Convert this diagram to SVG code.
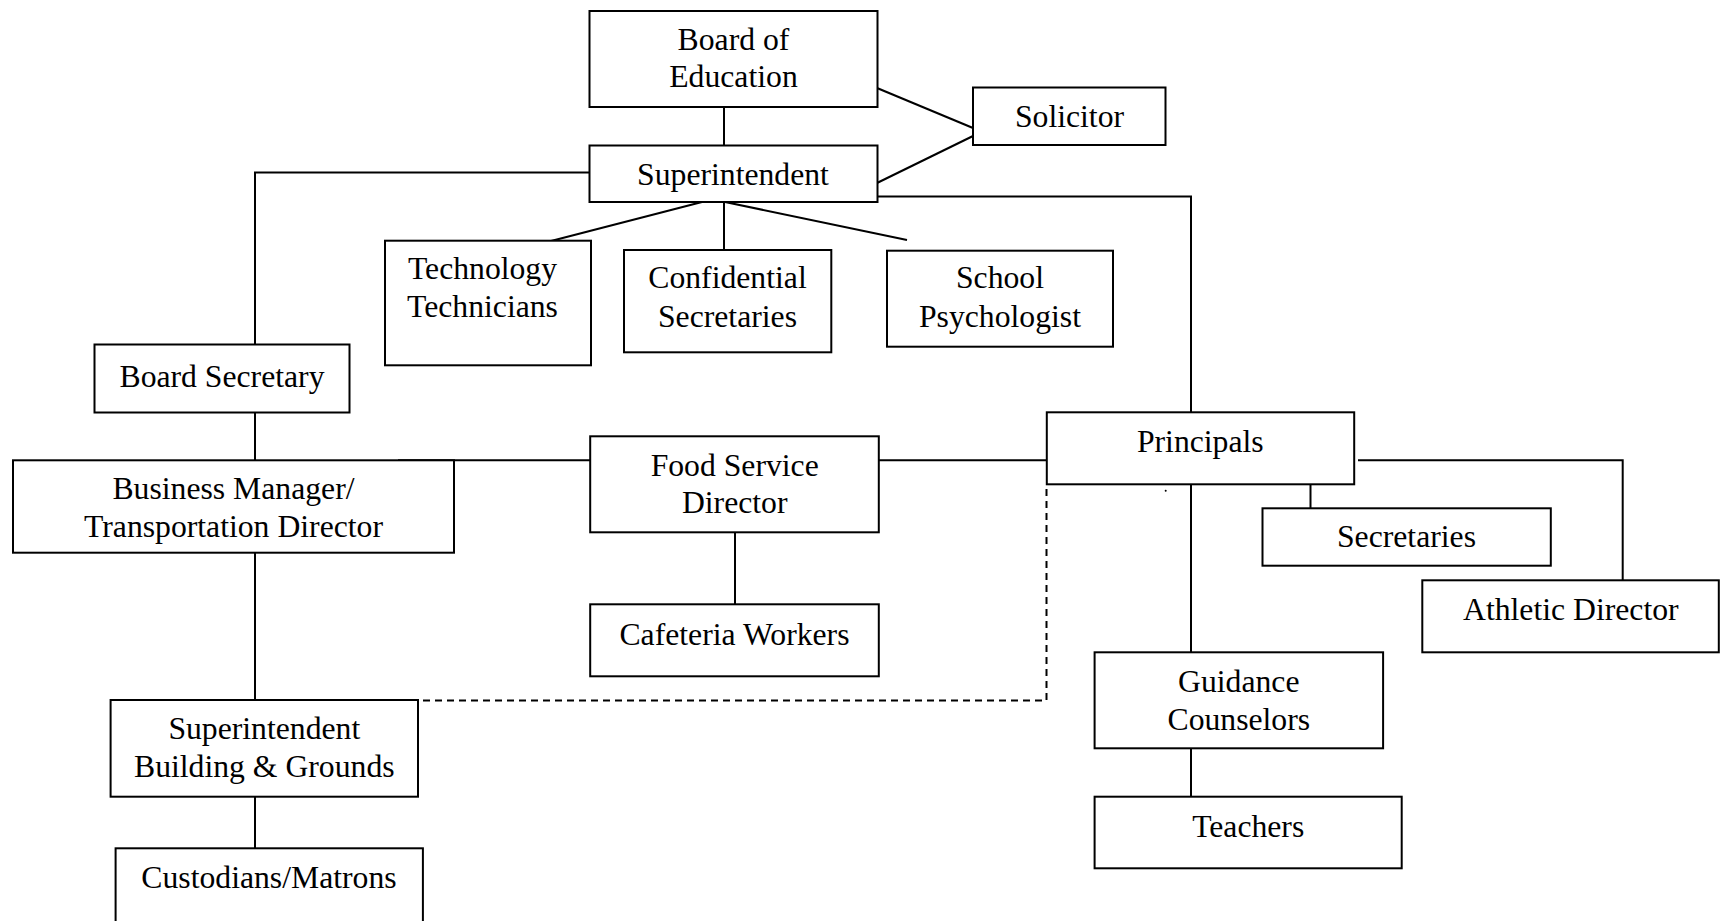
<svg xmlns="http://www.w3.org/2000/svg" width="1720" height="921" viewBox="0 0 1720 921">
<style>
.box{fill:#fff;stroke:#000;stroke-width:2}
.ln{fill:none;stroke:#000;stroke-width:2}
.dash{fill:none;stroke:#000;stroke-width:2;stroke-dasharray:7 5}
text{font-family:"Liberation Serif","Times New Roman",serif;font-size:31.7px;fill:#000;text-anchor:middle}
</style>
<rect width="1720" height="921" fill="#fff"/>
<g id="connectors">
<line class="ln" x1="724" y1="106" x2="724" y2="146"/>
<line class="ln" x1="877" y1="88" x2="973" y2="128"/>
<line class="ln" x1="877" y1="183" x2="973" y2="136"/>
<polyline class="ln" points="877,196.5 1191,196.5 1191,413"/>
<polyline class="ln" points="590,172.5 255,172.5 255,345"/>
<line class="ln" x1="702" y1="202" x2="551" y2="241"/>
<line class="ln" x1="724" y1="202" x2="724" y2="250"/>
<line class="ln" x1="725" y1="202" x2="907" y2="240"/>
<line class="ln" x1="255" y1="412" x2="255" y2="460"/>
<line class="ln" x1="398" y1="460.3" x2="590" y2="460.3"/>
<line class="ln" x1="879" y1="460.3" x2="1047" y2="460.3"/>
<line class="ln" x1="735" y1="532" x2="735" y2="604"/>
<line class="ln" x1="255" y1="553" x2="255" y2="700"/>
<line class="ln" x1="255" y1="797" x2="255" y2="848"/>
<polyline class="dash" points="423,700.5 1046.5,700.5 1046.5,485"/>
<line class="ln" x1="1191" y1="484" x2="1191" y2="652"/>
<line class="ln" x1="1310.5" y1="484" x2="1310.5" y2="508"/>
<polyline class="ln" points="1358,460.3 1622.7,460.3 1622.7,580"/>
<line class="ln" x1="1191" y1="748" x2="1191" y2="797"/>
<circle cx="1165.7" cy="490.7" r="1" fill="#000"/>
</g>
<g id="board-of-education"><rect class="box" x="589.5" y="11" width="288" height="96"/><text x="733.5" y="50">Board of</text><text x="733.5" y="87.3">Education</text></g>
<g id="superintendent"><rect class="box" x="589.5" y="145.5" width="288" height="56.5"/><text x="733" y="185">Superintendent</text></g>
<g id="solicitor"><rect class="box" x="973" y="87.5" width="192.5" height="57.5"/><text x="1069.5" y="126.7">Solicitor</text></g>
<g id="technology-technicians"><rect class="box" x="385" y="240.7" width="206" height="124.6"/><text x="482.5" y="279.3">Technology</text><text x="482.5" y="317.3">Technicians</text></g>
<g id="confidential-secretaries"><rect class="box" x="624" y="250" width="207.3" height="102.3"/><text x="727.5" y="288.3">Confidential</text><text x="727.5" y="326.7">Secretaries</text></g>
<g id="school-psychologist"><rect class="box" x="887" y="250.7" width="226" height="96"/><text x="1000" y="288.3">School</text><text x="1000" y="326.7">Psychologist</text></g>
<g id="board-secretary"><rect class="box" x="94.5" y="344.5" width="255" height="68"/><text x="222" y="386.7">Board Secretary</text></g>
<g id="business-manager"><rect class="box" x="13" y="460.3" width="441" height="92.4"/><text x="233.5" y="499">Business Manager/</text><text x="233.5" y="536.7">Transportation Director</text></g>
<g id="food-service-director"><rect class="box" x="590.2" y="436.3" width="288.6" height="96"/><text x="734.7" y="476">Food Service</text><text x="734.7" y="513.3">Director</text></g>
<g id="cafeteria-workers"><rect class="box" x="590.2" y="604.3" width="288.6" height="72"/><text x="734.5" y="645">Cafeteria Workers</text></g>
<g id="superintendent-building-grounds"><rect class="box" x="110.6" y="700" width="307.4" height="96.7"/><text x="264.3" y="739.3">Superintendent</text><text x="264.3" y="777.3">Building &amp; Grounds</text></g>
<g id="custodians-matrons"><rect class="box" x="115.6" y="848.3" width="307.3" height="90"/><text x="269" y="888.3">Custodians/Matrons</text></g>
<g id="principals"><rect class="box" x="1046.8" y="412.3" width="307.4" height="72"/><text x="1200.3" y="452.3">Principals</text></g>
<g id="secretaries"><rect class="box" x="1262.5" y="508.3" width="288.3" height="57.4"/><text x="1406.5" y="546.7">Secretaries</text></g>
<g id="athletic-director"><rect class="box" x="1422.3" y="580.3" width="296.5" height="72"/><text x="1570.8" y="620">Athletic Director</text></g>
<g id="guidance-counselors"><rect class="box" x="1094.6" y="652.3" width="288.5" height="96"/><text x="1238.8" y="691.7">Guidance</text><text x="1238.8" y="730">Counselors</text></g>
<g id="teachers"><rect class="box" x="1094.6" y="796.7" width="307.1" height="71.6"/><text x="1248.2" y="836.7">Teachers</text></g>
</svg>
